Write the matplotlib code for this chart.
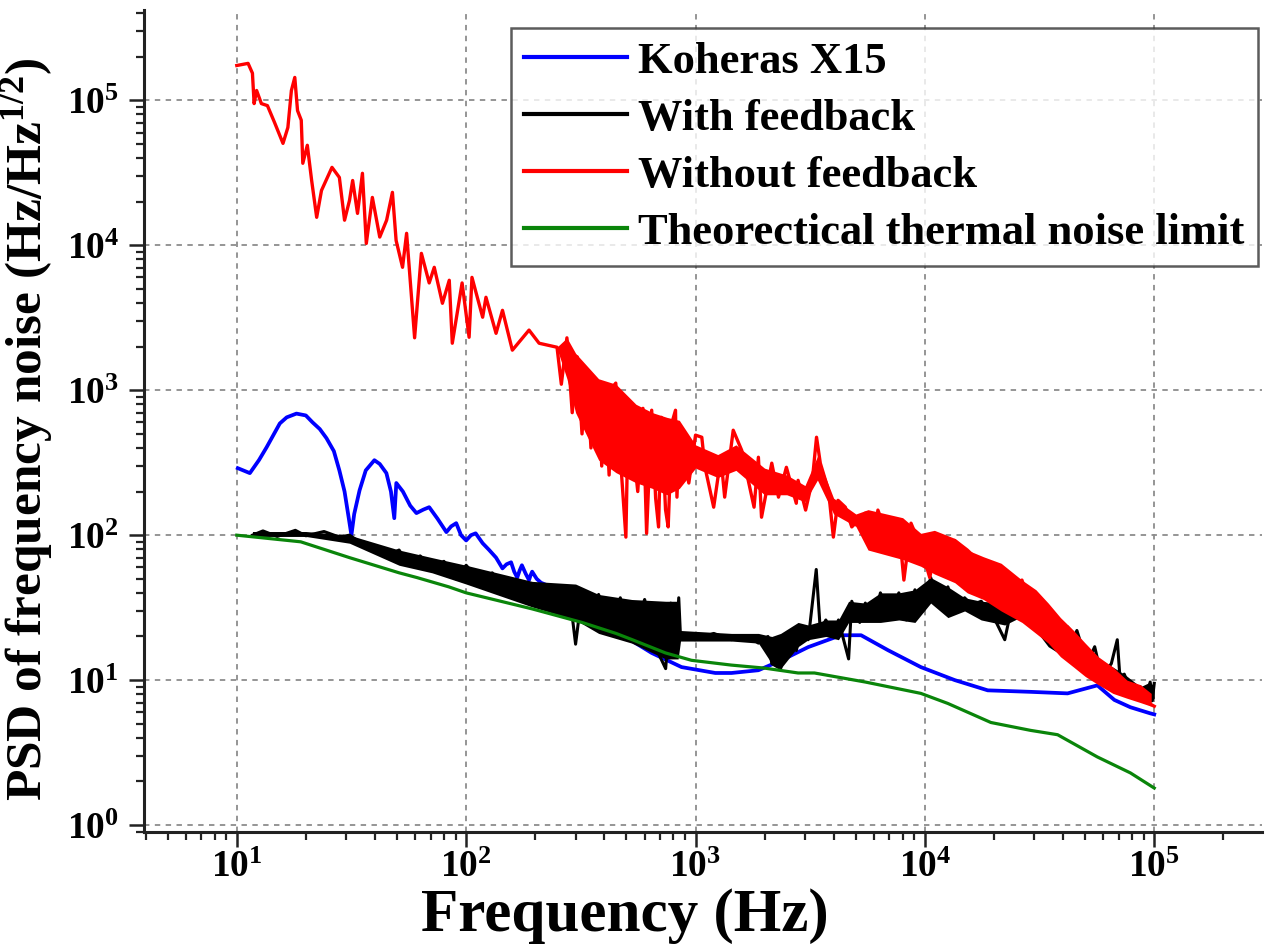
import matplotlib
matplotlib.use("Agg")
import matplotlib.pyplot as plt
import numpy as np
from matplotlib.ticker import FuncFormatter, LogLocator, NullFormatter

plt.rcParams.update({
    "font.family": "Liberation Serif",
    "font.weight": "bold",
    "mathtext.fontset": "custom",
    "mathtext.rm": "Liberation Serif:bold",
    "mathtext.it": "Liberation Serif:bold",
    "mathtext.bf": "Liberation Serif:bold",
})

# ---- data (Hz, Hz/Hz^1/2) ----
green_f = [10, 19, 31, 51, 61, 84, 100, 194, 320, 450, 530, 740, 960, 1430, 2000, 2800,
           3300, 5500, 9600, 12600, 19400, 28900, 37900, 56500, 78700, 100000]
green_v = [100, 90, 70, 55, 51, 44, 40, 31, 25, 21, 19, 15.4, 13.7, 12.7, 12.1, 11.2,
           11.2, 9.7, 8.1, 6.9, 5.1, 4.5, 4.2, 2.95, 2.29, 1.8]

blue_f = [10.1, 11.4, 12.5, 13.5, 15.4, 16.5, 18.2, 20, 21.4, 23, 24.6, 26.5, 28, 29.5, 30.8,
          31.6, 32.5, 34.3, 36.5, 39.8, 42, 44.9, 47, 48.6, 49.6, 53, 57, 60.7, 65, 69, 75,
          82, 86, 90.5, 95, 100, 105, 110, 118, 126, 135, 144, 150, 157, 162, 167, 171, 175,
          182, 188, 191, 194, 203, 212, 250, 350, 420, 497, 644, 869, 1220, 1435, 1880,
          2370, 3100, 4300, 5270, 6900, 9600, 13500, 18800, 28900, 41900, 56500, 67000,
          78700, 96000, 100000]
blue_v = [290, 268, 330, 405, 590, 650, 690, 670, 600, 540, 467, 380, 280, 200, 130,
          100, 140, 204, 280, 329, 310, 268, 200, 131, 229, 200, 160, 142, 150, 156, 130,
          105, 115, 121, 100, 92, 100, 103, 88, 79, 70, 59, 63, 65, 56, 51, 57, 62,
          54, 49, 53, 56, 50, 47, 42, 28, 22, 19.8, 15.4, 12.3, 11.2, 11.2, 11.7,
          13.7, 16.9, 20.4, 20.4, 16.1, 12.3, 10, 8.5, 8.3, 8.1, 9.2, 7.3,
          6.5, 5.9, 5.8]

black_f = [11.7, 13, 15, 18, 20, 24, 28, 31, 35, 40, 45, 51, 56, 63, 71, 80, 90, 100, 115,
           130, 150, 170, 194, 220, 250, 280, 300, 320, 350, 378, 420, 470, 527, 600, 680,
           741, 780, 820, 845, 860, 1000, 1200, 1435, 1700, 1880, 2070, 2150, 2350, 2500,
           2750, 2900, 3100, 3360, 3500, 3700, 4000, 4200, 4650, 4800, 5200, 5500, 6000,
           6400, 7000, 7700, 8300, 9050, 9800, 10600, 11500, 12600, 13500, 14900, 16000,
           17600, 20000, 22300, 24000, 27100, 30000, 34500, 38000, 42000, 46000, 51000,
           55000, 59000, 65000, 69000, 71000, 74000, 80000, 87000, 92000, 96000, 98000, 100000]
black_v = [100, 107, 98, 108, 99, 106, 97, 100, 88, 84, 72, 79, 62, 72, 58, 66, 50, 62, 48,
           55, 40, 48, 34, 45, 30, 44, 17.7, 40, 24, 39, 21, 37, 19, 36, 16,
           12, 34, 15, 37, 20, 19, 21, 19, 20, 18, 20, 13, 12, 19,
           16, 23, 19, 58, 22, 26, 20, 26, 14, 35, 25, 34, 26,
           40, 27, 40, 26, 42, 30, 51, 34, 44, 30, 37, 33,
           35, 27, 19, 33, 28, 34, 20, 26, 15, 22, 13,
           17, 10.5, 13, 19, 10, 11, 8, 9, 7.5, 9.7, 7.2, 9.5]

# envelope of the dense black band
black_band_f = [11.7, 20, 31, 51, 71, 100, 194, 300, 378, 527, 741, 840, 860, 1435, 1880,
                2150, 2350, 2800, 3100, 3700, 4200, 4650, 5500, 6400, 7700, 9050, 10600,
                12600, 14900, 17600, 22300, 27100, 34500, 42000, 51000, 59000, 74000,
                87000, 96000, 100000]
black_band_hi = [106, 106, 100, 79, 70, 62, 48, 46, 39, 36, 35, 35, 22, 21, 21,
                 20, 21, 25, 24, 26, 26, 35, 34, 40, 40, 42, 51,
                 44, 37, 35, 34, 34, 27, 24, 17, 13.7, 11,
                 9, 9.7, 9]
black_band_lo = [98, 98, 88, 62, 55, 46, 32, 26, 21, 18, 14, 14, 18.6, 18.6, 18,
                 13, 12, 17, 19, 20, 19, 25, 25, 25, 26, 25, 34,
                 27, 30, 26, 24, 28, 17, 14, 12, 10, 9,
                 7.8, 7, 7.5]

red_f = [10, 11.2, 11.7, 11.9, 12.2, 12.8, 13.6, 14.6, 15.9, 16.7, 17.3, 17.9, 18.4, 19.1,
         19.4, 20.3, 21.2, 22.3, 23.4, 26, 28, 29.5, 31, 32, 33.6, 35.3, 36.7, 39, 42, 45,
         47.7, 49.5, 52.8, 55, 59.6, 63.8, 69, 72.6, 78.8, 84.4, 87, 96, 103, 106, 118, 122,
         135, 144, 159, 188, 208, 249, 260, 275, 290, 305, 320, 335, 350, 365, 378, 390,
         405, 420, 435, 449, 470, 497, 510, 527, 560, 590, 612, 644, 670, 690, 710, 740,
         760, 790, 818, 830, 850, 935, 1000, 1065, 1100, 1200, 1290, 1340, 1460, 1590,
         1800, 1880, 1940, 2150, 2300, 2490, 2750, 2800, 3020, 3230, 3370, 3500, 3800,
         3990, 4180, 4500, 4800, 5500, 5650, 6000, 6240, 6900, 7700, 8100, 8700, 9600,
         10500, 11400, 12600, 13500, 15300, 17600, 20000, 23000, 26500, 28500, 32000,
         36800, 41900, 48200, 54000, 62500, 71500, 81600, 95000, 100000]
red_v = [174000, 180000, 154000, 95000, 117000, 95000, 92000, 70500, 50500, 65000, 117000,
         144000, 85000, 73000, 36800, 49000, 28000, 15600, 23900, 34500, 29400, 14900,
         20400, 28000, 16600, 31400, 10300, 21400, 11400, 14900, 23200, 10800, 7050, 12100,
         2300, 8800, 5500, 7050, 3980, 5740, 2110, 5500, 2320, 6010, 3190, 4380, 2470, 3560,
         1890, 2600, 2110, 1980, 1100, 2300, 700, 1700, 500, 1400, 400, 1200, 953, 300,
         900, 260, 1050, 1120, 350, 97, 800, 505, 200, 750, 103, 728, 180, 114, 650, 150,
         114, 600, 728, 183, 474, 229, 490, 474, 294, 156, 345, 183, 530, 385,
         156, 345, 133, 314, 183, 294, 166, 239, 149, 239, 474, 314, 204,
         97, 174, 156, 114, 142, 127, 88, 149, 97, 114, 49, 121, 83,
         51, 97, 54, 92, 79, 64, 51, 42, 49, 34, 32,
         25, 21, 15.4, 12.3, 10.5, 8.5, 7.9, 6.9, 6.6]

# envelope of the dense part of the red trace
red_band_f = [250, 275, 300, 378, 450, 550, 650, 750, 850, 1000, 1250, 1500, 2000, 2500, 3000,
              3400, 4000, 5000, 5650, 8000, 9600, 11000, 13500, 15300, 18000, 21500, 26500,
              30500, 34500, 39000, 44500, 50000, 57000, 66000, 76000, 87000, 97000]
red_band_hi = [2000, 2300, 1800, 1200, 1100, 800, 700, 650, 620, 420, 360, 420, 290, 260, 220,
               350, 180, 140, 150, 132, 103, 108, 95, 79, 71, 64, 49,
               42, 34, 27, 22, 18, 14.5, 12.3, 10, 9.3, 8.1]
red_band_lo = [1900, 1200, 700, 330, 270, 230, 210, 190, 210, 290, 250, 280, 190, 190, 170,
               240, 140, 115, 79, 68, 61, 54, 47, 40, 36, 30, 25,
               21, 18, 14.5, 12.3, 10.6, 9.3, 8.1, 7.5, 7, 6.6]

labels = ["Koheras X15", "With feedback", "Without feedback", "Theorectical thermal noise limit"]
colors = ["#0000FF", "#000000", "#FF0000", "#0A850A"]

fig = plt.figure(figsize=(12.7, 9.47), dpi=100)
ax = fig.add_axes([0.1134, 0.1214, 0.8803, 0.868])

ax.plot(blue_f, blue_v, color=colors[0], lw=2.7, label=labels[0], zorder=3)
ax.fill_between(black_band_f, black_band_lo, black_band_hi, color=colors[1], lw=0, zorder=4)
ax.plot(black_f, black_v, color=colors[1], lw=2.2, label=labels[1], zorder=4)
ax.fill_between(red_band_f, red_band_lo, red_band_hi, color=colors[2], lw=0, zorder=5)
ax.plot(red_f, red_v, color=colors[2], lw=2.4, label=labels[2], zorder=5)
ax.plot(green_f, green_v, color=colors[3], lw=2.3, label=labels[3], zorder=6)

ax.set_xscale("log")
ax.set_yscale("log")
ax.set_xlim(3.94, 2.95e5)
ax.set_ylim(0.895, 4.2e5)

fmt = FuncFormatter(lambda v, p: r"$10^{%d}$" % round(np.log10(v)))
ax.xaxis.set_major_locator(LogLocator(base=10, numticks=20))
ax.yaxis.set_major_locator(LogLocator(base=10, numticks=20))
ax.xaxis.set_minor_locator(LogLocator(base=10, subs=np.arange(2, 10), numticks=20))
ax.yaxis.set_minor_locator(LogLocator(base=10, subs=np.arange(2, 10), numticks=20))
ax.xaxis.set_major_formatter(fmt)
ax.yaxis.set_major_formatter(fmt)
ax.xaxis.set_minor_formatter(NullFormatter())
ax.yaxis.set_minor_formatter(NullFormatter())
ax.tick_params(which="major", direction="out", length=11, width=1.8, labelsize=27,
               color="#222222")
ax.tick_params(axis="x", which="major", pad=2)
ax.tick_params(axis="y", which="major", pad=7)
ax.tick_params(which="minor", direction="out", length=6, width=1.6, color="#222222")

for side in ["top", "right"]:
    ax.spines[side].set_visible(False)
for side in ["left", "bottom"]:
    ax.spines[side].set_linewidth(2.2)
    ax.spines[side].set_color("#222222")

ax.grid(True, which="major", linestyle=(0, (3, 3)), linewidth=1.3, color="#8c8c8c", zorder=0)
ax.set_axisbelow(True)

ax.set_xlabel("Frequency (Hz)", fontsize=44, fontweight="bold")
ax.set_ylabel(r"PSD of frequency noise (Hz/Hz$^{1/2}$)", fontsize=37, fontweight="bold")
ax.xaxis.set_label_coords(0.43, -0.068)
ax.yaxis.set_label_coords(-0.08, 0.49)

leg = ax.legend(loc="upper right", bbox_to_anchor=(0.996, 0.978), borderaxespad=0,
                fontsize=32, frameon=True, fancybox=False, edgecolor="#333333",
                handlelength=2.3, handletextpad=0.25, labelspacing=0.38, borderpad=0.3)
leg.get_frame().set_linewidth(1.8)
for line in leg.get_lines():
    line.set_linewidth(3)
leg.set_zorder(10)

fig.savefig("out.png", dpi=100, facecolor="white")
